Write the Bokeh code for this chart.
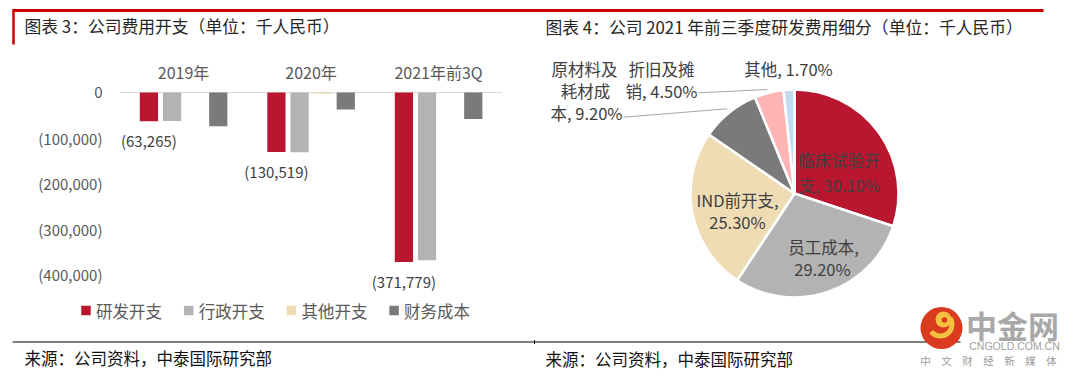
import numpy as np
from bokeh.plotting import figure
from bokeh.models import Range1d, ColumnDataSource
from bokeh.transform import dodge
from bokeh.core.properties import value
from bokeh.embed import file_html
from bokeh.resources import INLINE

# ---------------- data ----------------
years = ["2019年", "2020年", "2021年前3Q"]
series = ["研发开支", "行政开支", "其他开支", "财务成本"]
rd_exp = [-63265, -130519, -371779]
admin_exp = [-62500, -131000, -368000]
other_exp = [0, -3000, 0]
fin_cost = [-74000, -37500, -58000]
y_ticks = [0, -100000, -200000, -300000, -400000]
y_tick_labels = ["0", "(100,000)", "(200,000)", "(300,000)", "(400,000)"]

pie_names = ["临床试验开支", "员工成本", "IND前开支", "原材料及耗材成本", "折旧及摊销", "其他"]
pie_pct = [30.1, 29.2, 25.3, 9.2, 4.5, 1.7]

title_left = "图表 3：公司费用开支（单位：千人民币）"
title_right = "图表 4：公司 2021 年前三季度研发费用细分（单位：千人民币）"
source_text = "来源：公司资料，中泰国际研究部"

# ---------------- styles / layout ----------------
W, H = 1074, 377
FONT = "Noto Sans CJK SC"
bar_colors = ["#B8172F", "#B3B3B3", "#EFDCB5", "#7A7A7A"]
pie_colors = ["#B8172F", "#B3B3B3", "#EFDCB5", "#7A7A7A", "#FFB3B3", "#C6DBEF"]
TXT = "#404040"
AX_TXT = "#595959"

CAT0_PX, CAT_STEP_PX = 183.1, 127.5      # centre of first category, px per category
ZERO_PX, PX_PER_VAL = 92.0, 45.6 / 100000
offsets = [-0.272, -0.0906, 0.0906, 0.272]
BAR_W = 0.143

PIE_CX, PIE_CY, PIE_R = 794, 193, 104

p = figure(width=W, height=H, x_range=Range1d(0, W), y_range=Range1d(H, 0),
           x_axis_type=None, y_axis_type=None, toolbar_location=None,
           output_backend="svg", min_border=0, outline_line_color=None,
           background_fill_color="white", border_fill_color="white")
p.grid.visible = False
p.extra_x_ranges = {"cat": Range1d(-CAT0_PX / CAT_STEP_PX, (W - CAT0_PX) / CAT_STEP_PX)}
p.extra_y_ranges = {"val": Range1d(-(H - ZERO_PX) / PX_PER_VAL, ZERO_PX / PX_PER_VAL)}

# ---------------- frame decorations ----------------
p.segment(x0=[12], y0=[10], x1=[1043], y1=[10], line_color="#CC0000", line_width=3)
p.segment(x0=[13], y0=[9], x1=[13], y1=[44], line_color="#CC0000", line_width=2.5)
p.segment(x0=[12], y0=[341.5], x1=[960], y1=[341.5], line_color="#000000", line_width=1.2)
p.segment(x0=[534], y0=[339.5], x1=[534], y1=[343.5], line_color="#000000", line_width=1)

p.text(x=[24, 545], y=[25, 26], text=[title_left, title_right], text_align="left",
       text_baseline="middle", text_font=value(FONT), text_font_size="16.8px", text_color="#262626")
p.text(x=[24, 545], y=[357, 358], text=[source_text, source_text], text_align="left",
       text_baseline="middle", text_font=value(FONT), text_font_size="16.5px", text_color="#111111")

# ---------------- bar chart ----------------
src = ColumnDataSource(dict(idx=[0, 1, 2], rd=rd_exp, admin=admin_exp, other=other_exp,
                            fin=fin_cost, rd_label=[f"({abs(v):,})" for v in rd_exp]))
p.segment(x0=[-0.5], x1=[2.5], y0=[0], y1=[0], x_range_name="cat", y_range_name="val",
          line_color="#D9D9D9", line_width=1)
for key, off, col in zip(["rd", "admin", "other", "fin"], offsets, bar_colors):
    p.vbar(x=dodge("idx", off), top=0, bottom=key, width=BAR_W, source=src,
           fill_color=col, line_color=None, x_range_name="cat", y_range_name="val")

p.text(x=[102] * len(y_ticks), y=y_ticks, text=y_tick_labels, y_range_name="val",
       text_align="right", text_baseline="middle", text_font=value(FONT),
       text_font_size="15px", text_color=AX_TXT)
p.text(x=[0, 1, 2], y=[71] * 3, text=years, x_range_name="cat", text_align="center",
       text_baseline="middle", text_font=value(FONT), text_font_size="16px", text_color=AX_TXT)
p.text(x=dodge("idx", offsets[0]), y="rd", text="rd_label", source=src,
       x_range_name="cat", y_range_name="val", y_offset=19, text_align="center",
       text_baseline="middle", text_font=value(FONT), text_font_size="15px", text_color=TXT)

# legend
LEG_X0, LEG_STEP, LEG_Y = 85.5, 102.7, 310
leg_x = [LEG_X0 + i * LEG_STEP for i in range(len(series))]
p.rect(x=leg_x, y=[LEG_Y] * 4, width=9.5, height=9.5, fill_color=bar_colors, line_color=None)
p.text(x=[x + 10 for x in leg_x], y=[LEG_Y] * 4, text=series, text_align="left",
       text_baseline="middle", text_font=value(FONT), text_font_size="16.5px", text_color=AX_TXT)

# ---------------- pie chart ----------------
cum = np.cumsum([0] + pie_pct) / 100.0
starts = np.pi / 2 - 2 * np.pi * cum[:-1]
ends = np.pi / 2 - 2 * np.pi * cum[1:]
p.wedge(x=PIE_CX, y=PIE_CY, radius=PIE_R, start_angle=starts, end_angle=ends,
        direction="clock", fill_color=pie_colors, line_color="white", line_width=2.5)

breaks = [[5], [5], [7], [4, 7], [4], []]
label_pos = [[(839, 159), (839, 184)],
             [(823, 246), (822, 268)],
             [(737, 199), (737, 221)],
             [(584, 68), (585, 90), (586, 112)],
             [(661, 68), (661, 90)],
             [(788, 68)]]
lx, ly, lt = [], [], []
for name, pct, br, pos in zip(pie_names, pie_pct, breaks, label_pos):
    full = f"{name}, {pct:.2f}%"
    cuts = [0] + br + [len(full)]
    lines = [full[a:b].strip() for a, b in zip(cuts[:-1], cuts[1:])]
    for ln, (x, y) in zip(lines, pos):
        lx.append(x); ly.append(y); lt.append(ln)
p.text(x=lx, y=ly, text=lt, text_align="center", text_baseline="middle",
       text_font=value(FONT), text_font_size="16.5px", text_color=TXT)
p.segment(x0=[698, 623], y0=[92.3, 116.7], x1=[766.7, 726.7], y1=[89, 108.3],
          line_color="#A6A6A6", line_width=1)

# ---------------- watermark logo ----------------
p.circle(x=[941], y=[327.5], radius=21, fill_color="#DA3A1E", line_color=None)
p.annular_wedge(x=[940], y=[324], inner_radius=9, outer_radius=14, start_angle=0.6,
                end_angle=-2.5, direction="clock", fill_color="#F6C040", line_color=None)
p.circle(x=[943], y=[319], radius=8, fill_color="#F6C040", line_color=None)
p.circle(x=[944], y=[319.5], radius=2.8, fill_color="#DA3A1E", line_color=None)
p.text(x=[1012], y=[324], text=["中金网"], text_align="center", text_baseline="middle",
       text_font=value(FONT), text_font_size="31px", text_font_style="bold", text_color="#A8A8A8")
p.text(x=[1014], y=[345.5], text=["CNGOLD.COM.CN"], text_align="center", text_baseline="middle",
       text_font=value("Liberation Sans"), text_font_size="10.5px", text_color="#A0A0A0")
p.text(x=[988], y=[360], text=["中　文　财　经　新　媒　体"], text_align="center",
       text_baseline="middle", text_font=value(FONT), text_font_size="10.5px", text_color="#9A9A9A")

open("out.html", "w").write(file_html(p, INLINE))
